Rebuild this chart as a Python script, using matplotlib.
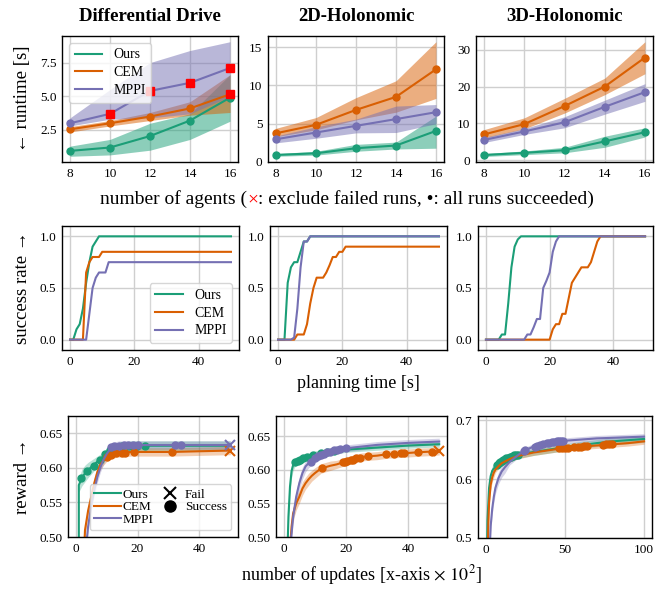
import matplotlib
matplotlib.use("Agg")
import matplotlib.pyplot as plt
from matplotlib.lines import Line2D

plt.rcParams['font.family'] = ['Liberation Serif', 'DejaVu Serif']
plt.rcParams['mathtext.fontset'] = 'stix'

C_OURS, C_CEM, C_MPPI = '#1b9e77', '#d95f02', '#7570b3'
methods = ['Ours', 'CEM', 'MPPI']
colors = [C_OURS, C_CEM, C_MPPI]
titles = ['Differential Drive', '2D-Holonomic', '3D-Holonomic']

# ---------------- Row 1: runtime vs number of agents ----------------
agents = [8, 10, 12, 14, 16]
# Differential Drive
dd_ours = [0.95, 1.2, 2.05, 3.2, 4.9]
dd_ours_lo = [0.55, 0.65, 1.0, 1.8, 3.15]
dd_ours_hi = [1.3, 1.8, 3.0, 3.7, 6.6]
dd_cem = [2.55, 3.0, 3.5, 4.1, 5.15]
dd_cem_lo = [2.35, 2.8, 3.2, 3.6, 3.8]
dd_cem_hi = [2.75, 3.2, 3.8, 4.6, 6.6]
dd_mppi = [3.0, 3.7, 5.4, 6.0, 7.1]
dd_mppi_lo = [2.8, 3.3, 3.4, 3.7, 5.0]
dd_mppi_hi = [3.4, 5.5, 7.5, 8.4, 9.05]
dd_ours_fail = [False, False, False, False, False]
dd_cem_fail = [False, False, False, False, True]
dd_mppi_fail = [False, True, True, True, True]
# 2D-Holonomic
h2_ours = [0.92, 1.14, 1.8, 2.15, 4.06]
h2_ours_lo = [0.75, 0.9, 1.4, 1.7, 1.8]
h2_ours_hi = [1.1, 1.4, 2.3, 2.6, 6.0]
h2_cem = [3.75, 4.85, 6.8, 8.5, 12.1]
h2_cem_lo = [3.3, 4.2, 5.5, 6.5, 8.3]
h2_cem_hi = [4.4, 5.8, 8.4, 10.6, 15.7]
h2_mppi = [2.97, 3.85, 4.72, 5.6, 6.5]
h2_mppi_lo = [2.5, 3.1, 3.8, 3.85, 5.0]
h2_mppi_hi = [3.4, 4.6, 5.6, 7.3, 7.5]
# 3D-Holonomic
h3_ours = [1.4, 2.0, 2.7, 5.1, 7.6]
h3_ours_lo = [1.0, 1.5, 2.0, 3.5, 6.3]
h3_ours_hi = [1.8, 2.5, 3.5, 6.5, 8.8]
h3_cem = [7.0, 9.8, 14.7, 20.0, 27.9]
h3_cem_lo = [6.0, 8.5, 12.8, 17.8, 23.5]
h3_cem_hi = [8.3, 11.5, 16.8, 22.3, 32.2]
h3_mppi = [5.5, 7.8, 10.3, 14.5, 18.5]
h3_mppi_lo = [4.8, 7.0, 8.8, 12.5, 16.0]
h3_mppi_hi = [6.2, 8.6, 11.8, 16.3, 20.8]
no_fail = [False] * 5

runtime = [
    [(dd_ours, dd_ours_lo, dd_ours_hi, dd_ours_fail),
     (dd_cem, dd_cem_lo, dd_cem_hi, dd_cem_fail),
     (dd_mppi, dd_mppi_lo, dd_mppi_hi, dd_mppi_fail)],
    [(h2_ours, h2_ours_lo, h2_ours_hi, no_fail),
     (h2_cem, h2_cem_lo, h2_cem_hi, no_fail),
     (h2_mppi, h2_mppi_lo, h2_mppi_hi, no_fail)],
    [(h3_ours, h3_ours_lo, h3_ours_hi, no_fail),
     (h3_cem, h3_cem_lo, h3_cem_hi, no_fail),
     (h3_mppi, h3_mppi_lo, h3_mppi_hi, no_fail)],
]

# ---------------- Row 2: success rate vs planning time ----------------
dd_sr_ours_t = [0, 1, 2, 3, 4, 5, 6, 7, 8, 9, 50]
dd_sr_ours = [0, 0, 0.1, 0.15, 0.3, 0.55, 0.75, 0.9, 0.95, 1.0, 1.0]
dd_sr_cem_t = [0, 4, 5, 6, 7, 9, 10, 50]
dd_sr_cem = [0, 0, 0.65, 0.75, 0.8, 0.8, 0.85, 0.85]
dd_sr_mppi_t = [0, 5, 6, 7, 8, 9, 11, 12, 50]
dd_sr_mppi = [0, 0, 0.25, 0.5, 0.6, 0.65, 0.65, 0.75, 0.75]

h2_sr_ours_t = [0, 2, 3, 4, 5, 6, 7, 8, 9, 10, 50]
h2_sr_ours = [0, 0, 0.55, 0.7, 0.75, 0.75, 0.85, 0.95, 0.95, 1.0, 1.0]
h2_sr_cem_t = [0, 5, 6, 8, 9, 10, 11, 12, 14, 15, 16, 17, 18, 19, 20, 21, 50]
h2_sr_cem = [0, 0, 0.05, 0.05, 0.15, 0.35, 0.5, 0.6, 0.6, 0.65, 0.72, 0.8, 0.8, 0.85, 0.85, 0.9, 0.9]
h2_sr_mppi_t = [0, 4, 5, 6, 7, 8, 9, 10, 50]
h2_sr_mppi = [0, 0, 0.02, 0.3, 0.7, 0.95, 0.95, 1.0, 1.0]

h3_sr_ours_t = [0, 4, 5, 6, 7, 8, 9, 10, 11, 50]
h3_sr_ours = [0, 0, 0.05, 0.05, 0.35, 0.7, 0.9, 0.97, 1.0, 1.0]
h3_sr_cem_t = [0, 20, 21, 22, 23, 24, 25, 26, 27, 28, 29, 30, 31, 32, 33, 34, 35, 36, 50]
h3_sr_cem = [0, 0, 0.1, 0.15, 0.15, 0.25, 0.25, 0.4, 0.55, 0.6, 0.65, 0.7, 0.7, 0.7, 0.75, 0.85, 0.95, 1.0, 1.0]
h3_sr_mppi_t = [0, 12, 13, 14, 15, 16, 17, 18, 19, 20, 21, 22, 23, 50]
h3_sr_mppi = [0, 0, 0.05, 0.05, 0.12, 0.2, 0.2, 0.5, 0.57, 0.65, 0.85, 0.95, 1.0, 1.0]

success = [
    [(dd_sr_ours_t, dd_sr_ours), (dd_sr_cem_t, dd_sr_cem), (dd_sr_mppi_t, dd_sr_mppi)],
    [(h2_sr_ours_t, h2_sr_ours), (h2_sr_cem_t, h2_sr_cem), (h2_sr_mppi_t, h2_sr_mppi)],
    [(h3_sr_ours_t, h3_sr_ours), (h3_sr_cem_t, h3_sr_cem), (h3_sr_mppi_t, h3_sr_mppi)],
]

# ---------------- Row 3: reward vs number of updates ----------------
# Differential Drive
dd_rw_ours_x = [1.0, 1.0, 2, 3, 4, 5, 6, 7, 8, 9, 10, 11, 12, 14, 16, 18, 20, 25, 30, 40, 50]
dd_rw_ours = [0.40, 0.575, 0.586, 0.592, 0.597, 0.601, 0.605, 0.609, 0.613, 0.617, 0.621, 0.625, 0.627,
              0.630, 0.631, 0.632, 0.632, 0.632, 0.632, 0.632, 0.632]
dd_rw_ours_sd = [0.01, 0.01, 0.012, 0.012, 0.011, 0.010, 0.009, 0.008, 0.007, 0.007, 0.007, 0.007, 0.007,
                 0.007, 0.007, 0.007, 0.007, 0.007, 0.007, 0.007, 0.007]
dd_rw_cem_x = [2.5, 3, 4, 5, 6, 7, 8, 9, 10, 11, 12, 13, 15, 18, 25, 31, 40, 50]
dd_rw_cem = [0.46, 0.51, 0.538, 0.558, 0.578, 0.594, 0.605, 0.611, 0.615, 0.618, 0.620, 0.621, 0.622,
             0.623, 0.623, 0.623, 0.624, 0.625]
dd_rw_cem_sd = [0.008, 0.008, 0.008, 0.008, 0.008, 0.008, 0.007, 0.007, 0.006, 0.006, 0.006, 0.006, 0.006,
                0.006, 0.006, 0.006, 0.006, 0.006]
dd_rw_mppi_x = [3, 4, 5, 6, 7, 8, 9, 10, 11, 12, 13, 14, 16, 20, 30, 40, 50]
dd_rw_mppi = [0.47, 0.515, 0.545, 0.568, 0.587, 0.601, 0.612, 0.620, 0.626, 0.630, 0.632, 0.633, 0.633,
              0.633, 0.633, 0.633, 0.633]
dd_rw_mppi_sd = [0.008, 0.008, 0.008, 0.008, 0.008, 0.007, 0.007, 0.006, 0.006, 0.006, 0.006, 0.006, 0.006,
                 0.006, 0.006, 0.006, 0.006]
dd_mk_ours_x = [1.7, 3.8, 5.8, 7.7, 9.5, 11.0, 12.6, 14.9, 17.3, 19.9, 22.5]
dd_mk_ours = [0.585, 0.595, 0.603, 0.612, 0.620, 0.626, 0.629, 0.631, 0.632, 0.632, 0.632]
dd_mk_cem_x = [10, 11.5, 13, 15, 16, 19, 31]
dd_mk_cem = [0.615, 0.619, 0.621, 0.622, 0.622, 0.623, 0.623]
dd_mk_mppi_x = [11.5, 12.5, 14, 15.5, 17, 18.5, 20, 32, 34]
dd_mk_mppi = [0.630, 0.631, 0.632, 0.633, 0.633, 0.633, 0.633, 0.633, 0.633]
dd_fail_cem = [(50, 0.625)]
dd_fail_mppi = [(50, 0.633)]

# 2D-Holonomic
h2_rw_ours_x = [1.0, 1.5, 2, 2.5, 3, 3.5, 4, 5, 6, 8, 10, 15, 20, 30, 40, 50]
h2_rw_ours = [0.45, 0.53, 0.575, 0.598, 0.607, 0.611, 0.613, 0.615, 0.617, 0.620, 0.623, 0.627, 0.630,
              0.633, 0.636, 0.638]
h2_rw_ours_sd = [0.012, 0.012, 0.012, 0.01, 0.008, 0.007, 0.006, 0.006, 0.006, 0.005, 0.005, 0.005, 0.004,
                 0.004, 0.004, 0.004]
h2_rw_cem_x = [1.8, 2.5, 3, 4, 5, 6, 7, 8, 9, 10, 12, 15, 17, 19, 21, 23, 25, 27, 30, 33, 36, 40, 43, 47, 50]
h2_rw_cem = [0.47, 0.515, 0.535, 0.55, 0.56, 0.572, 0.580, 0.586, 0.591, 0.595, 0.602, 0.606, 0.608, 0.611,
             0.614, 0.617, 0.619, 0.620, 0.621, 0.623, 0.624, 0.625, 0.626, 0.627, 0.628]
h2_rw_cem_sd = [0.01, 0.01, 0.01, 0.01, 0.01, 0.01, 0.009, 0.009, 0.008, 0.008, 0.007, 0.007, 0.006, 0.006,
                0.006, 0.006, 0.006, 0.006, 0.006, 0.006, 0.006, 0.006, 0.006, 0.006, 0.006]
h2_rw_mppi_x = [2.0, 3, 4, 5, 6, 7, 8, 9, 10, 12, 14, 16, 18, 20, 30, 40, 50]
h2_rw_mppi = [0.48, 0.53, 0.56, 0.58, 0.595, 0.605, 0.610, 0.614, 0.617, 0.622, 0.626, 0.629, 0.631, 0.632,
              0.637, 0.640, 0.642]
h2_rw_mppi_sd = [0.01, 0.01, 0.01, 0.01, 0.009, 0.008, 0.007, 0.007, 0.006, 0.006, 0.005, 0.005, 0.005, 0.005,
                 0.005, 0.005, 0.005]
h2_mk_ours_x = [3.7, 4.5, 5.3, 6.2, 7.5, 9.5, 12, 14, 16]
h2_mk_ours = [0.611, 0.613, 0.615, 0.617, 0.619, 0.622, 0.625, 0.626, 0.628]
h2_mk_cem_x = [12.2, 18.9, 19.6, 20.3, 21.6, 22.2, 23.2, 24.6, 27, 32.9, 35.6, 37.8, 38.8, 43.1, 47.6]
h2_mk_cem = [0.603, 0.611, 0.612, 0.613, 0.614, 0.615, 0.617, 0.618, 0.620, 0.623, 0.624, 0.625, 0.625,
             0.626, 0.627]
h2_mk_mppi_x = [8.7, 10, 11, 12, 13, 14, 15, 16, 17, 18, 20]
h2_mk_mppi = [0.612, 0.617, 0.620, 0.622, 0.624, 0.626, 0.627, 0.629, 0.630, 0.631, 0.632]
h2_fail_cem = [(50, 0.628)]

# 3D-Holonomic
h3_rw_ours_x = [0.5, 1, 2, 3, 4, 5, 6, 7, 8, 10, 12, 15, 20, 30, 40, 50, 60, 70, 80, 90, 100]
h3_rw_ours = [0.45, 0.53, 0.585, 0.605, 0.614, 0.618, 0.620, 0.624, 0.627, 0.631, 0.634, 0.637, 0.641,
              0.646, 0.650, 0.654, 0.658, 0.661, 0.664, 0.666, 0.668]
h3_rw_ours_sd = [0.008] * 6 + [0.006] * 15
h3_rw_cem_x = [1, 1.5, 2, 3, 4, 5, 6, 8, 10, 15, 20, 30, 40, 50, 60, 70, 80, 90, 100]
h3_rw_cem = [0.45, 0.52, 0.56, 0.59, 0.603, 0.611, 0.616, 0.622, 0.627, 0.634, 0.639, 0.645, 0.649, 0.653,
             0.655, 0.657, 0.659, 0.661, 0.664]
h3_rw_cem_sd = [0.008] * 6 + [0.005] * 13
h3_rw_mppi_x = [2, 3, 4, 5, 6, 8, 10, 12, 15, 20, 24, 30, 35, 40, 45, 50, 60, 70, 80, 90, 100]
h3_rw_mppi = [0.45, 0.52, 0.55, 0.57, 0.585, 0.602, 0.613, 0.620, 0.629, 0.640, 0.648, 0.655, 0.659, 0.662,
              0.664, 0.665, 0.667, 0.669, 0.670, 0.671, 0.672]
h3_rw_mppi_sd = [0.01] * 8 + [0.005] * 13
h3_mk_ours_x = [7, 8, 9, 10, 11, 12, 13, 14, 15, 16, 17, 18, 19, 20]
h3_mk_ours = [0.624, 0.627, 0.629, 0.631, 0.632, 0.634, 0.635, 0.636, 0.637, 0.638, 0.639, 0.640, 0.640, 0.641]
h3_mk_cem_x = [46, 48, 50, 52, 56, 58, 60, 62, 64, 74, 76, 78, 80]
h3_mk_cem = [0.652, 0.652, 0.653, 0.653, 0.654, 0.655, 0.655, 0.656, 0.656, 0.658, 0.659, 0.659, 0.660]
h3_mk_mppi_x = [24, 25, 31, 32, 34, 36, 38.5, 40, 41.6, 43, 44.8, 46, 47.5, 49]
h3_mk_mppi = [0.648, 0.649, 0.655, 0.656, 0.658, 0.659, 0.661, 0.662, 0.663, 0.663, 0.664, 0.664, 0.665, 0.665]

reward = [
    [(dd_rw_ours_x, dd_rw_ours, dd_rw_ours_sd, dd_mk_ours_x, dd_mk_ours, []),
     (dd_rw_cem_x, dd_rw_cem, dd_rw_cem_sd, dd_mk_cem_x, dd_mk_cem, dd_fail_cem),
     (dd_rw_mppi_x, dd_rw_mppi, dd_rw_mppi_sd, dd_mk_mppi_x, dd_mk_mppi, dd_fail_mppi)],
    [(h2_rw_ours_x, h2_rw_ours, h2_rw_ours_sd, h2_mk_ours_x, h2_mk_ours, []),
     (h2_rw_cem_x, h2_rw_cem, h2_rw_cem_sd, h2_mk_cem_x, h2_mk_cem, h2_fail_cem),
     (h2_rw_mppi_x, h2_rw_mppi, h2_rw_mppi_sd, h2_mk_mppi_x, h2_mk_mppi, [])],
    [(h3_rw_ours_x, h3_rw_ours, h3_rw_ours_sd, h3_mk_ours_x, h3_mk_ours, []),
     (h3_rw_cem_x, h3_rw_cem, h3_rw_cem_sd, h3_mk_cem_x, h3_mk_cem, []),
     (h3_rw_mppi_x, h3_rw_mppi, h3_rw_mppi_sd, h3_mk_mppi_x, h3_mk_mppi, [])],
]

# ---------------- Figure ----------------
W, H = 667, 589
fig = plt.figure(figsize=(W / 100, H / 100), dpi=100)

def add_ax(x0, y0, x1, y1):
    return fig.add_axes([x0 / W, 1 - y1 / H, (x1 - x0) / W, (y1 - y0) / H])

pos = [
    [(62, 36, 238, 162), (268, 36, 444, 162), (476, 36, 653, 162)],
    [(62, 226, 239, 350), (270, 226, 447, 350), (478, 226, 653, 350)],
    [(68, 416, 238, 537), (276, 416, 447, 537), (478, 416, 652, 538)],
]
axes = [[add_ax(*p) for p in row] for row in pos]

TICK_FS = 9.5
LAB_FS = 13
GRID_C = '#cfcfcf'

def style(ax):
    ax.grid(True, color=GRID_C, lw=1.0)
    ax.set_axisbelow(True)
    for s in ax.spines.values():
        s.set_color('black')
        s.set_linewidth(1.0)
    ax.tick_params(length=0, pad=4, labelsize=TICK_FS)

line_handles = [Line2D([], [], color=c, lw=1.5) for c in colors]

# Row 1
for j in range(3):
    ax = axes[0][j]
    style(ax)
    for k, (mean, lo, hi, fail) in enumerate(runtime[j]):
        c = colors[k]
        ax.fill_between(agents, lo, hi, color=c, alpha=0.5, lw=0)
        ax.plot(agents, mean, color=c, lw=1.5, marker='o', ms=5)
        fx = [a for a, f in zip(agents, fail) if f]
        fy = [m for m, f in zip(mean, fail) if f]
        if fx:
            ax.plot(fx, fy, ls='none', marker='s', ms=5.5, color='red', mec='red', zorder=5)
    ax.set_xticks(agents)
    ax.set_title(titles[j], fontsize=13.5, fontweight='bold', pad=11)
axes[0][0].set_yticks([2.5, 5.0, 7.5])
axes[0][0].set_yticklabels(['2.5', '5.0', '7.5'])
axes[0][1].set_yticks([0, 5, 10, 15])
axes[0][2].set_yticks([0, 10, 20, 30])
axes[0][1].set_ylim(bottom=0)
axes[0][2].set_ylim(bottom=-0.5)
axes[0][0].legend(line_handles, methods, loc='upper left', fontsize=10, handlelength=2.0,
                  frameon=True, edgecolor='#cccccc', framealpha=0.8, borderpad=0.4,
                  labelspacing=0.35)

# Row 2
for j in range(3):
    ax = axes[1][j]
    style(ax)
    for k, (t, s) in enumerate(success[j]):
        ax.plot(t, s, color=colors[k], lw=1.5)
    ax.set_xlim(-2.5, 52.5)
    ax.set_ylim(-0.1, 1.1)
    ax.set_xticks([0, 20, 40])
    ax.set_yticks([0.0, 0.5, 1.0])
    ax.set_yticklabels(['0.0', '0.5', '1.0'])
axes[1][0].legend(line_handles, methods, loc='lower right', fontsize=10, handlelength=2.0,
                  frameon=True, edgecolor='#cccccc', framealpha=0.8, borderpad=0.4,
                  labelspacing=0.35)

# Row 3
for j in range(3):
    ax = axes[2][j]
    style(ax)
    for k, (x, m, sd, mx, my, fails) in enumerate(reward[j]):
        c = colors[k]
        lo = [a - b for a, b in zip(m, sd)]
        hi = [a + b for a, b in zip(m, sd)]
        ax.fill_between(x, lo, hi, color=c, alpha=0.3, lw=0)
        ax.plot(x, m, color=c, lw=1.5)
        ax.plot(mx, my, ls='none', marker='o', ms=5, color=c)
        for fx, fy in fails:
            ax.plot([fx], [fy], ls='none', marker='x', ms=7, mew=1.5, color=c)
axes[2][0].set_xlim(-2.5, 52.5)
axes[2][1].set_xlim(-2.5, 52.5)
axes[2][2].set_xlim(-5, 105)
axes[2][0].set_ylim(0.5, 0.675)
axes[2][1].set_ylim(0.5, 0.68)
axes[2][2].set_ylim(0.5, 0.707)
for ax in axes[2][:2]:
    ax.set_xticks([0, 20, 40])
    ax.set_yticks([0.50, 0.55, 0.60, 0.65])
    ax.set_yticklabels(['0.50', '0.55', '0.60', '0.65'])
axes[2][2].set_xticks([0, 50, 100])
axes[2][2].set_yticks([0.5, 0.6, 0.7])
axes[2][2].set_yticklabels(['0.5', '0.6', '0.7'])

handles = line_handles + [
    Line2D([], [], ls='none', marker='x', ms=8, mew=1.5, color='black'),
    Line2D([], [], ls='none', marker='o', ms=8, color='black')]
labels = methods + ['Fail', 'Success']
axes[2][0].legend(handles, labels, ncol=2, loc='lower right', fontsize=9.5, handlelength=2.0,
                  handletextpad=0.1, columnspacing=0.3, frameon=True, edgecolor='#cccccc',
                  framealpha=0.8, borderpad=0.35, labelspacing=0.02, borderaxespad=0.5)

# Y labels
axes[0][0].set_ylabel('\u2190 runtime [s]', fontsize=13.5)
axes[1][0].set_ylabel('success rate \u2192', fontsize=13.5)
axes[2][0].set_ylabel('reward \u2192', fontsize=13.5)
axes[0][0].yaxis.set_label_coords((31 - 62) / 176, 0.5)
axes[1][0].yaxis.set_label_coords((31 - 62) / 177, 0.5)
axes[2][0].yaxis.set_label_coords((31 - 68) / 170, 0.5)

# X labels (centered on middle column)
cx1 = 347 / W
cx2 = (270 + 447) / 2 / W
cx3 = (276 + 447) / 2 / W
fig.text(cx2, 1 - 383 / H, 'planning time [s]', fontsize=LAB_FS, ha='center', va='center')
fig.text(cx3, 1 - 575 / H, r'number of updates [x-axis $\times$ $10^2$]', fontsize=LAB_FS,
         ha='center', va='center')

RFS = 14
y1 = 1 - 208 / H
t1 = fig.text(0.3, y1, 'number of agents (', fontsize=RFS, ha='left', va='bottom')
t2 = fig.text(0, 0, '\u00d7', fontsize=RFS, color='red', ha='left', va='bottom')
t3 = fig.text(0, 0, ': exclude failed runs, \u2022: all runs succeeded)', fontsize=RFS,
              ha='left', va='bottom')
fig.canvas.draw()
r = fig.canvas.get_renderer()
b1 = t1.get_window_extent(r)
b2 = t2.get_window_extent(r)
b3 = t3.get_window_extent(r)
total = b1.width + b2.width + b3.width
x0 = cx1 * fig.bbox.width - total / 2
t1.set_position((x0 / fig.bbox.width, y1))
t2.set_position(((x0 + b1.width) / fig.bbox.width, y1))
t3.set_position(((x0 + b1.width + b2.width) / fig.bbox.width, y1))

fig.savefig('out.png', dpi=100)
